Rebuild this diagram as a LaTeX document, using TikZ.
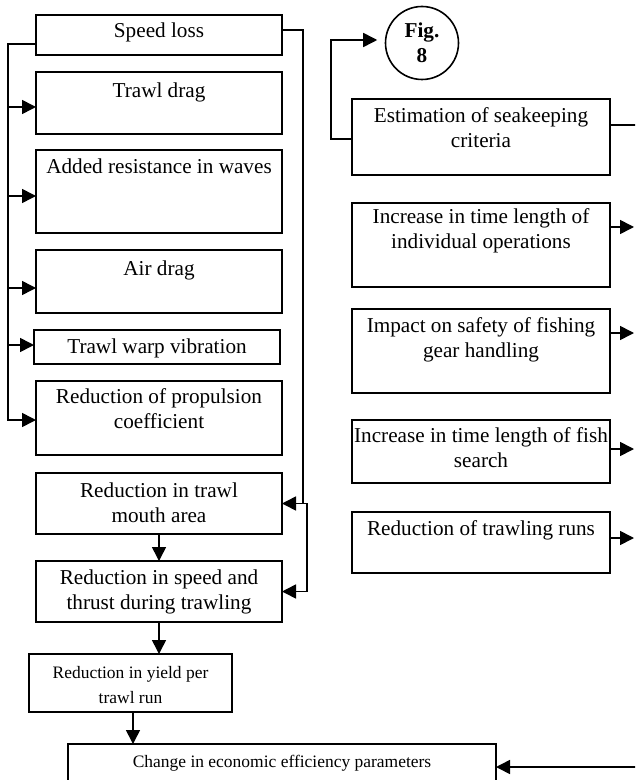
\documentclass[tikz,border=0pt]{standalone}
\usepackage{fontspec}
\setmainfont{Liberation Serif}
\usetikzlibrary{arrows.meta,fit}
\begin{document}
\begin{tikzpicture}[x=0.75pt,y=-0.75pt,
  box/.style={draw,line width=1.2pt,inner sep=0pt,outer sep=0pt},
  txt/.style={anchor=north,inner sep=0pt,align=center,font=\fontsize{15.9}{18.75}\selectfont},
  smalltxt/.style={txt,font=\fontsize{13.1}{18.75}\selectfont},
  conn/.style={line width=1.2pt},
  arr/.style={conn,-{Triangle[length=10.5pt,width=10.5pt]}}]
\useasboundingbox (0,0) rectangle (635,780);
\clip (0,0) rectangle (635,780);
% left column
\node[box,fit={(36,15) (282,55)}] (sl) {};
\node[txt] (tsl) at (159,19.5) {\strut Speed loss};
\node[box,fit={(36,72) (282,134)}] (td) {};
\node[txt] (ttd) at (159,79.5) {\strut Trawl drag};
\node[box,fit={(36,150) (282,233)}] (ar) {};
\node[txt] (tar) at (159,155.5) {\strut Added resistance in waves};
\node[box,fit={(36,250) (282,313)}] (ad) {};
\node[txt] (tad) at (159,257.5) {\strut Air drag};
\node[box,fit={(34,330) (280,364)}] (tw) {};
\node[txt] (ttw) at (157,335.5) {\strut Trawl warp vibration};
\node[box,fit={(36,381) (282,455)}] (rp) {};
\node[txt] (trp) at (159,385.5) {\strut Reduction of propulsion\\coefficient};
\node[box,fit={(36,473) (282,534)}] (tm) {};
\node[txt] (ttm) at (159,479.5) {\strut Reduction in trawl\\mouth area};
\node[box,fit={(36,561) (282,622)}] (st) {};
\node[txt] (tst) at (159,566.5) {\strut Reduction in speed and\\thrust during trawling};
\node[box,fit={(29,654) (232,712)}] (yd) {};
\node[smalltxt] (tyd) at (130.5,660.5) {\strut Reduction in yield per\\trawl run};
\node[box,fit={(68,744) (496,815)}] (ch) {};
\node[smalltxt] (tch) at (282,749.5) {\strut Change in economic efficiency parameters};
% right column
\node[draw,circle,line width=1.2pt,minimum size=54.75pt,inner sep=0pt,align=center,
      font=\fontsize{15.9}{18.75}\selectfont\bfseries] (fig) at (422,43) {Fig.\\8};
\node[box,fit={(352,99) (610,175)}] (es) {};
\node[txt] (tes) at (481,104.5) {\strut Estimation of seakeeping\\criteria};
\node[box,fit={(352,203) (610,287)}] (io) {};
\node[txt] (tio) at (481,205.5) {\strut Increase in time length of\\individual operations};
\node[box,fit={(352,309) (610,393)}] (is) {};
\node[txt] (tis) at (481,314.5) {\strut Impact on safety of fishing\\gear handling};
\node[box,fit={(352,420) (610,483)}] (fs) {};
\node[txt] (tfs) at (481,424.5) {\strut Increase in time length of fish\\search};
\node[box,fit={(352,512) (610,573)}] (tr) {};
\node[txt] (ttr) at (481,517.5) {\strut Reduction of trawling runs};
% left bus
\coordinate (b0) at (8,44);
\coordinate (b1) at (8,420);
\draw[arr] (sl.west |- b0) -- (b0) -- (b1) -- (rp.west |- b1);
\draw[arr] (b0 |- 0,107) -- (td.west |- 0,107);
\draw[arr] (b0 |- 0,196) -- (ar.west |- 0,196);
\draw[arr] (b0 |- 0,288) -- (ad.west |- 0,288);
\draw[arr] (b0 |- 0,345) -- (tw.west |- 0,345);
% right loop
\coordinate (r0) at (303,30);
\draw[arr] (sl.east |- r0) -- (r0) |- (tm.east);
\draw[arr] (r0 |- tm.east) -- ++(4,0) |- (st.east);
% down chain
\draw[arr] (tm) -- (st);
\draw[arr] (st.south) -- (st.south |- yd.north);
\draw[arr] (yd.south -| 133,0) -- (ch.north -| 133,0);
% estimation to fig
\coordinate (f0) at (331,139);
\draw[arr,shorten >=5.6pt] (es.west |- f0) -- (f0) |- (fig.west |- 0,40);
% right outputs
\coordinate (e0) at (636,125);
\draw[conn] (es.east |- e0) -- (e0);
\coordinate (o1) at (634,227);
\coordinate (o2) at (634,333);
\coordinate (o3) at (634,449);
\coordinate (o4) at (634,538);
\draw[arr] (io.east |- o1) -- (o1);
\draw[arr] (is.east |- o2) -- (o2);
\draw[arr] (fs.east |- o3) -- (o3);
\draw[arr] (tr.east |- o4) -- (o4);
\coordinate (c0) at (636,767);
\draw[arr] (c0) -- (ch.east |- c0);
\end{tikzpicture}
\end{document}
